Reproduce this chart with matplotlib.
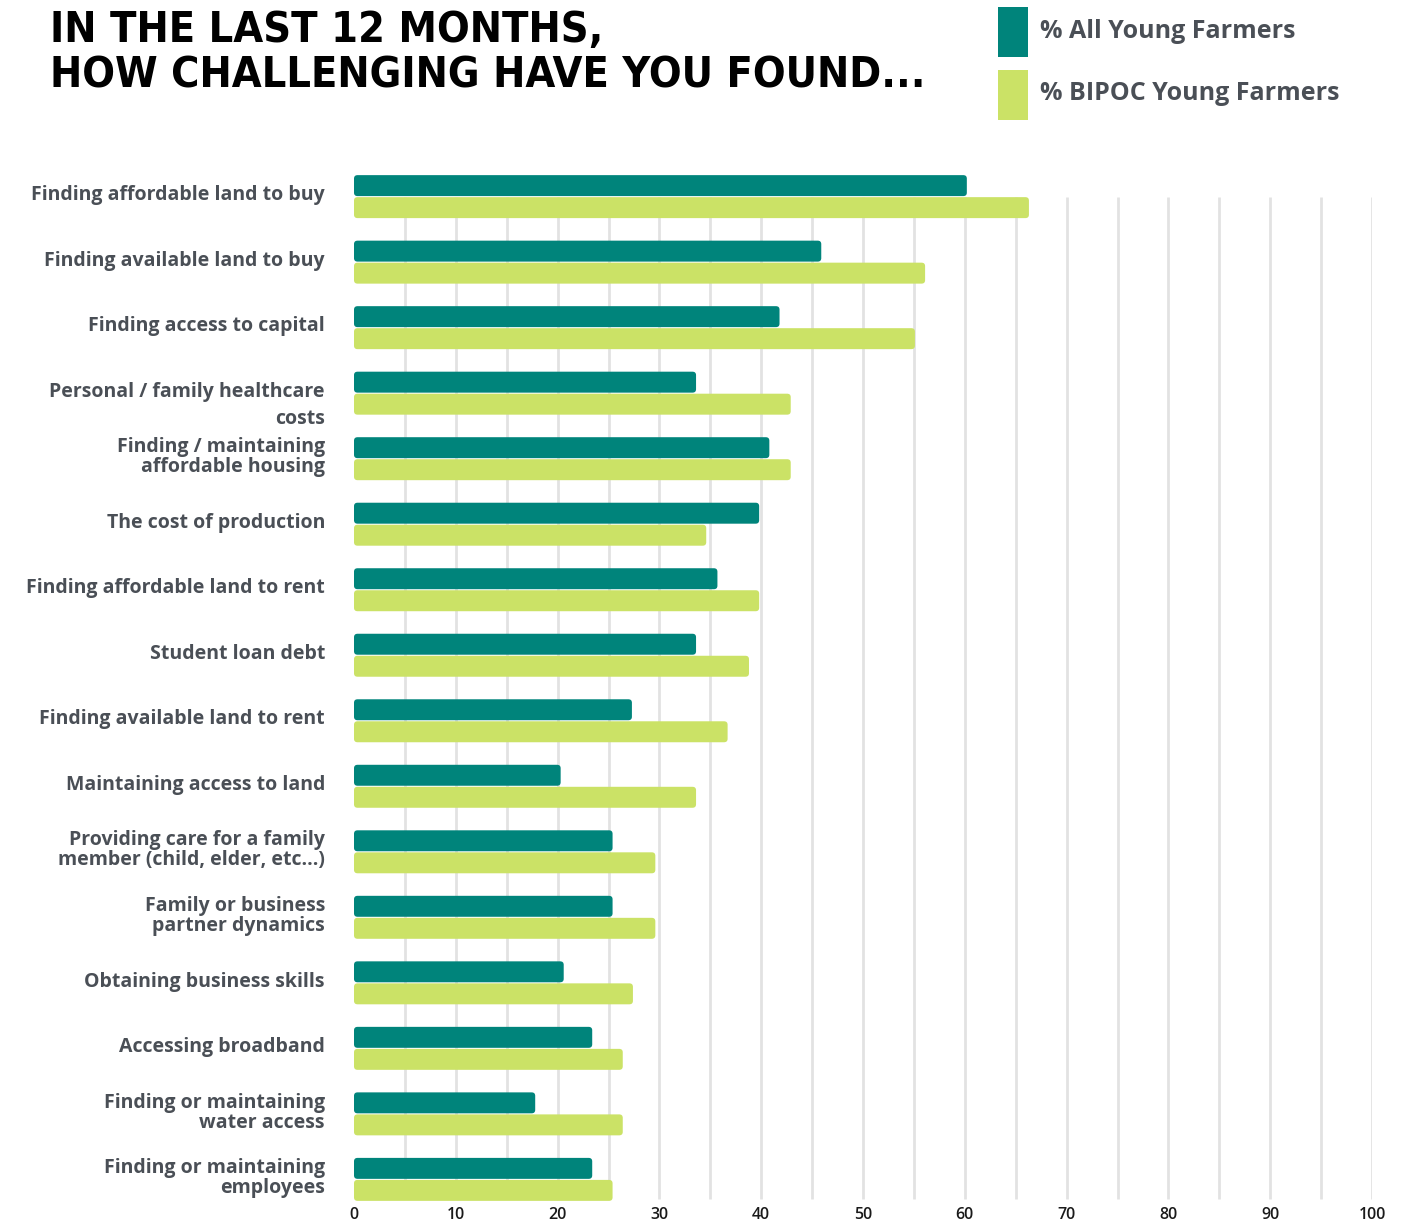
import matplotlib
matplotlib.use("Agg")
import matplotlib.pyplot as plt
from matplotlib.patches import FancyBboxPatch, Rectangle
import numpy as np

# data
labels = [
    "Finding affordable land to buy",
    "Finding available land to buy",
    "Finding access to capital",
    "Personal / family healthcare\ncosts",
    "Finding / maintaining\naffordable housing",
    "The cost of production",
    "Finding affordable land to rent",
    "Student loan debt",
    "Finding available land to rent",
    "Maintaining access to land",
    "Providing care for a family\nmember (child, elder, etc...)",
    "Family or business\npartner dynamics",
    "Obtaining business skills",
    "Accessing broadband",
    "Finding or maintaining\nwater access",
    "Finding or maintaining\nemployees",
]
all_young = [60.2, 45.9, 41.8, 33.6, 40.8, 39.8, 35.7, 33.6, 27.3, 20.3,
             25.4, 25.4, 20.6, 23.4, 17.8, 23.4]
bipoc_young = [66.3, 56.1, 55.1, 42.9, 42.9, 34.6, 39.8, 38.8, 36.7, 33.6,
               29.6, 29.6, 27.4, 26.4, 26.4, 25.4]
xticks = list(range(0, 101, 10))
series_names = ["% All Young Farmers", "% BIPOC Young Farmers"]
title_lines = ["IN THE LAST 12 MONTHS,", "HOW CHALLENGING HAVE YOU FOUND..."]

TEAL = "#00847B"
LIME = "#CBE266"
TXT = "#4a4f56"
FONT = ["Open Sans", "DejaVu Sans"]

W, H = 1424, 1223
fig = plt.figure(figsize=(W / 100, H / 100), dpi=100)
ax = fig.add_axes([354 / W, 1 - 1201 / H, (1372 - 354) / W, (1201 - 175) / H])

n = len(labels)
y = np.arange(n)
bh = 0.32
off = 0.168

# gridlines every 5 units
ax.vlines(np.arange(5, 101, 5), 0.0, n - 0.7, color="#e2e2e2", lw=2, zorder=0)

bars1 = ax.barh(y - off, all_young, height=bh, color=TEAL, zorder=2)
bars2 = ax.barh(y + off, bipoc_young, height=bh, color=LIME, zorder=2)

# swap plain rectangles for slightly rounded ones
for bars, col in ((bars1, TEAL), (bars2, LIME)):
    for b in bars:
        x0, y0 = b.get_x(), b.get_y()
        w, h = b.get_width(), b.get_height()
        b.remove()
        p = FancyBboxPatch((x0, y0), w, h,
                           boxstyle="round,pad=0,rounding_size=0.35",
                           mutation_aspect=0.15, fc=col, ec="none", zorder=2)
        ax.add_patch(p)

ax.set_xlim(0, 100)
ax.set_ylim(n - 1 + 0.33, -0.33)

for s in ax.spines.values():
    s.set_visible(False)
ax.set_yticks([])
ax.set_xticks(xticks)
ax.set_xticklabels([str(t) for t in xticks], family=FONT, fontsize=11.5,
                   color="#1a1a1a", fontweight="semibold")
ax.tick_params(axis="x", length=0, pad=4)

# category labels
for i, lab in enumerate(labels):
    if lab.startswith("Personal"):
        ax.text(-2.85, i + 0.19, lab, ha="right", va="center", fontsize=14,
                fontweight="bold", color=TXT, family=FONT, linespacing=1.5)
    else:
        ax.text(-2.85, i - 0.02, lab, ha="right", va="center", fontsize=14,
                fontweight="bold", color=TXT, family=FONT, linespacing=1.0)

# title, one text per line so the baselines sit where the reference has them
for line, base in zip(title_lines, [42, 88]):
    fig.text(50 / W, 1 - base / H, line, ha="left", va="baseline",
             fontsize=31, fontweight="bold", color="black",
             family="DejaVu Sans", fontstretch="condensed")

# legend
for k, (name, col) in enumerate(zip(series_names, [TEAL, LIME])):
    top = 7 + 63 * k
    fig.add_artist(Rectangle((998 / W, 1 - (top + 50) / H), 30 / W, 50 / H,
                             transform=fig.transFigure, fc=col, ec="none"))
    fig.text(1040 / W, 1 - (top + 24) / H, name, ha="left", va="center",
             fontsize=18, fontweight="bold", color=TXT, family=FONT)

fig.savefig("out.png", dpi=100)
